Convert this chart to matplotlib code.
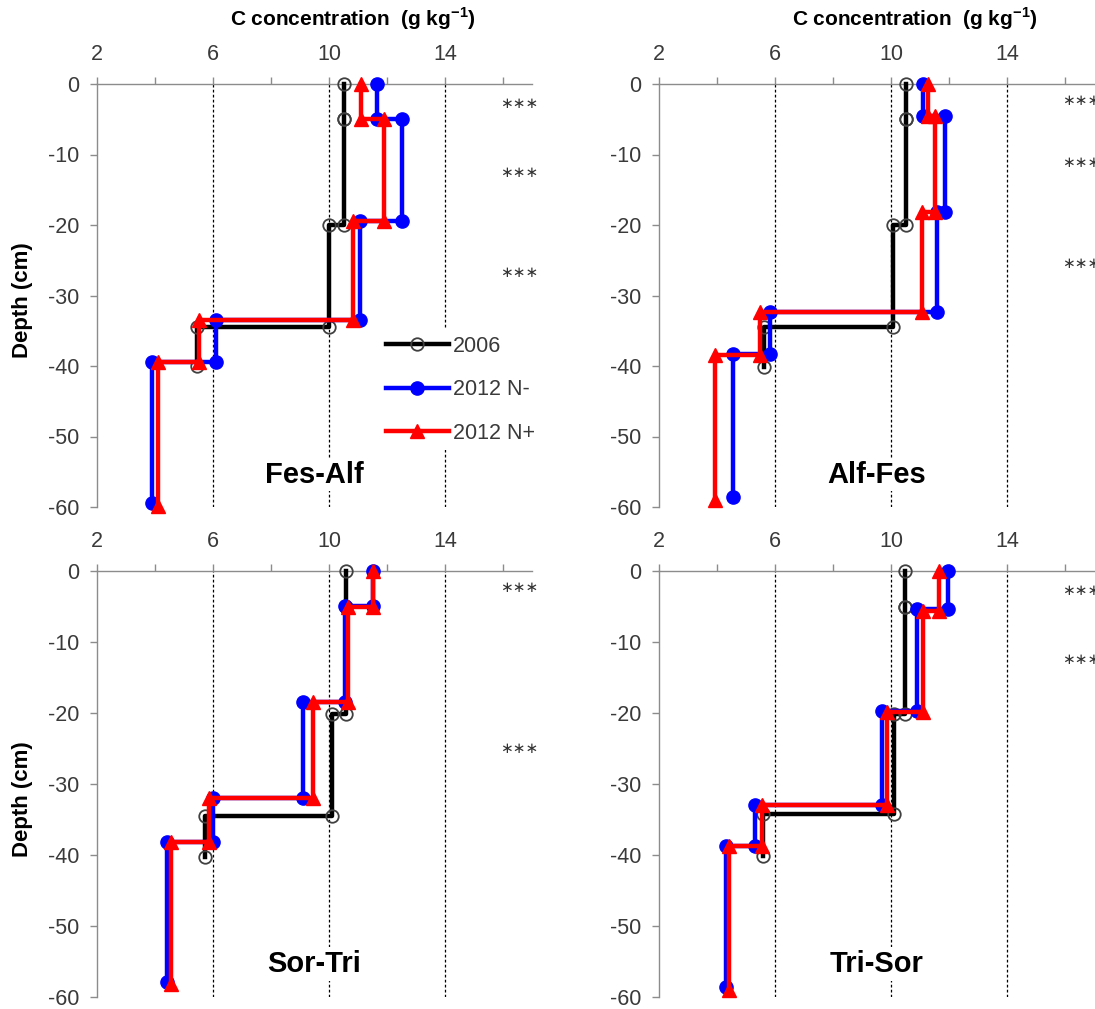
import matplotlib
matplotlib.use("Agg")
import matplotlib.pyplot as plt
from matplotlib.ticker import FixedLocator

plt.rcParams['font.family'] = ['Liberation Sans', 'DejaVu Sans']
plt.rcParams['mathtext.fontset'] = 'custom'
plt.rcParams['mathtext.rm'] = 'Liberation Sans'
plt.rcParams['mathtext.bf'] = 'Liberation Sans:bold'

# ---------------- data ----------------
panels = ["Fes-Alf", "Alf-Fes", "Sor-Tri", "Tri-Sor"]
series_names = ["2006", "2012 N-", "2012 N+"]

# layer boundaries (cm, positive downwards) and C concentration per layer (g/kg)
fesalf_2006_depth = [0, 5, 20, 34.5, 40]
fesalf_2006_conc = [10.5, 10.5, 10.0, 5.45]
fesalf_nminus_depth = [0, 5, 19.5, 33.5, 39.5, 59.5]
fesalf_nminus_conc = [11.65, 12.5, 11.07, 6.1, 3.9]
fesalf_nplus_depth = [0, 5, 19.5, 33.5, 39.5, 59.8]
fesalf_nplus_conc = [11.1, 11.9, 10.83, 5.5, 4.12]

alffes_2006_depth = [0, 5, 20, 34.4, 40.2]
alffes_2006_conc = [10.53, 10.53, 10.08, 5.62]
alffes_nminus_depth = [0, 4.5, 18.1, 32.3, 38.3, 58.6]
alffes_nminus_conc = [11.1, 11.86, 11.6, 5.83, 4.55]
alffes_nplus_depth = [0, 4.6, 18.2, 32.4, 38.4, 59.0]
alffes_nplus_conc = [11.28, 11.5, 11.07, 5.48, 3.93]

sortri_2006_depth = [0, 5, 20.2, 34.5, 40.3]
sortri_2006_conc = [10.59, 10.59, 10.1, 5.74]
sortri_nminus_depth = [0, 4.9, 18.4, 32.0, 38.2, 57.9]
sortri_nminus_conc = [11.52, 10.55, 9.1, 6.0, 4.41]
sortri_nplus_depth = [0, 5.0, 18.5, 32.0, 38.2, 58.2]
sortri_nplus_conc = [11.5, 10.66, 9.45, 5.85, 4.55]

trisor_2006_depth = [0, 5, 20.2, 34.2, 40.1]
trisor_2006_conc = [10.48, 10.48, 10.1, 5.6]
trisor_nminus_depth = [0, 5.4, 19.7, 32.9, 38.8, 58.6]
trisor_nminus_conc = [11.97, 10.9, 9.7, 5.3, 4.3]
trisor_nplus_depth = [0, 5.6, 19.9, 33.0, 38.8, 59.0]
trisor_nplus_conc = [11.66, 11.1, 9.86, 5.55, 4.42]

# significance markers (depth, cm)
fesalf_sig = [2.7, 12.5, 26.7]
alffes_sig = [2.3, 11.2, 25.4]
sortri_sig = [2.3, 25.0]
trisor_sig = [2.7, 12.4]

x_major = [2, 6, 10, 14]
x_minor = [4, 8, 12, 16]
y_ticks = [0, -10, -20, -30, -40, -50, -60]

panel_data = [
    (fesalf_2006_depth, fesalf_2006_conc, fesalf_nminus_depth, fesalf_nminus_conc,
     fesalf_nplus_depth, fesalf_nplus_conc, fesalf_sig),
    (alffes_2006_depth, alffes_2006_conc, alffes_nminus_depth, alffes_nminus_conc,
     alffes_nplus_depth, alffes_nplus_conc, alffes_sig),
    (sortri_2006_depth, sortri_2006_conc, sortri_nminus_depth, sortri_nminus_conc,
     sortri_nplus_depth, sortri_nplus_conc, sortri_sig),
    (trisor_2006_depth, trisor_2006_conc, trisor_nminus_depth, trisor_nminus_conc,
     trisor_nplus_depth, trisor_nplus_conc, trisor_sig),
]


def step_points(depth, conc):
    xs, ys = [], []
    for i, c in enumerate(conc):
        xs += [c, c]
        ys += [-depth[i], -depth[i + 1]]
    return xs, ys


W, H = 1095, 1009
fig = plt.figure(figsize=(W / 100, H / 100), dpi=100)

# pixel layout of axes: (left px, top px, bottom px)
px_w = 435
layout = [(97, 84, 507), (659, 84, 507), (97, 571, 997), (659, 571, 997)]

tick_col = '#3a3a3a'
spine_col = '#8c8c8c'

for k, (name, pdata) in enumerate(zip(panels, panel_data)):
    lpx, tpx, bpx = layout[k]
    ax = fig.add_axes([lpx / W, 1 - bpx / H, px_w / W, (bpx - tpx) / H])
    d06, c06, dnm, cnm, dnp, cnp, sig = pdata

    ax.set_xlim(2, 17)
    ax.set_ylim(-60, 0)

    styles = [
        dict(color='black', marker='o', ms=9, mfc='none', mec='#404040', mew=1.3, lw=3.2),
        dict(color='#0000ff', marker='o', ms=9.5, mfc='#0000ff', mec='#0000ff', lw=3.2),
        dict(color='#ff0000', marker='^', ms=10, mfc='#ff0000', mec='#ff0000', lw=3.2),
    ]
    for (dd, cc), st, lab in zip([(d06, c06), (dnm, cnm), (dnp, cnp)], styles, series_names):
        xs, ys = step_points(dd, cc)
        ax.plot(xs, ys, label=lab, clip_on=False, zorder=3, **st)

    # axes styling
    for s in ['right', 'bottom']:
        ax.spines[s].set_visible(False)
    for s in ['left', 'top']:
        ax.spines[s].set_color(spine_col)
        ax.spines[s].set_linewidth(1.0)
    ax.xaxis.set_ticks_position('top')
    ax.xaxis.set_major_locator(FixedLocator(x_major))
    ax.xaxis.set_minor_locator(FixedLocator(x_minor))
    ax.set_xticklabels([str(v) for v in x_major])
    ax.set_yticks(y_ticks)
    ax.set_yticklabels([str(v) for v in y_ticks])
    ax.tick_params(axis='x', which='both', direction='out', length=5, width=1,
                   color=spine_col, labelsize=15.5, labelcolor=tick_col, pad=9)
    ax.tick_params(axis='y', direction='out', length=5, width=1, color=spine_col,
                   labelsize=15.5, labelcolor=tick_col, pad=8)
    ax.grid(False)
    for xv in x_major[1:]:
        ax.axvline(xv, color='black', lw=0.9, ls=(0, (2.2, 1.8)), zorder=1)

    # significance
    for dv in sig:
        ax.text(16.55, -dv, '\u2217\u2217\u2217', family='DejaVu Sans', fontsize=11,
                color='#333333', ha='center', va='center', clip_on=False)

    # panel label
    ax.text(9.5, -55.4, name, fontsize=21, fontweight='bold', ha='center', va='center',
            zorder=2, bbox=dict(facecolor='white', edgecolor='none', pad=2))

    # y label
    if k in (0, 2):
        ax.set_ylabel('Depth (cm)', fontsize=16, fontweight='bold', color='black')
        ax.yaxis.set_label_coords(-0.147, 0.49 if k == 0 else 0.465)

    # x title
    if k in (0, 1):
        fig.text((lpx + 256) / W, 1 - 19 / H, 'C concentration  (g kg$^{\\mathbf{-1}}$)',
                 fontsize=15, fontweight='bold', ha='center', va='center')

    if k == 0:
        leg = ax.legend(loc='upper left', bbox_to_anchor=(0.65, 0.42), frameon=True,
                        facecolor='white', edgecolor='none', framealpha=1, fancybox=False,
                        fontsize=15.5, handlelength=2.9, handletextpad=0.2,
                        labelspacing=1.05, borderpad=0.3, borderaxespad=0)
        for t in leg.get_texts():
            t.set_color(tick_col)
        leg.set_zorder(5)

fig.savefig('out.png', dpi=100, facecolor='white')
